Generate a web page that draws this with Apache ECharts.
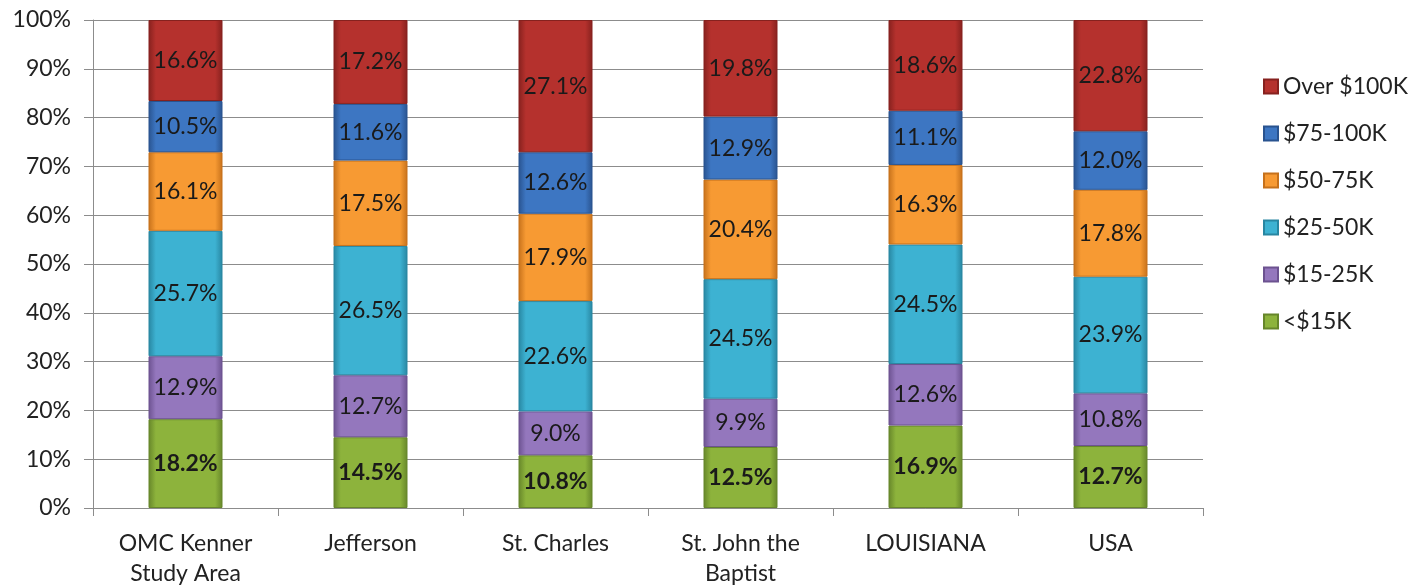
<!DOCTYPE html>
<html>
<head>
<meta charset="utf-8">
<script src="https://cdn.jsdelivr.net/npm/echarts@6/dist/echarts.min.js"></script>
<style>
  html, body { margin: 0; padding: 0; background: #fff; }
  #chart { width: 1426px; height: 585px; }
</style>
</head>
<body>
<div id="chart"></div>
<script>
const categories = ["OMC Kenner\nStudy Area", "Jefferson", "St. Charles", "St. John the\nBaptist", "LOUISIANA", "USA"];
const seriesNames = ["<$15K", "$15-25K", "$25-50K", "$50-75K", "$75-100K", "Over $100K"];
const under15 = [18.2, 14.5, 10.8, 12.5, 16.9, 12.7];
const from15to25 = [12.9, 12.7, 9.0, 9.9, 12.6, 10.8];
const from25to50 = [25.7, 26.5, 22.6, 24.5, 24.5, 23.9];
const from50to75 = [16.1, 17.5, 17.9, 20.4, 16.3, 17.8];
const from75to100 = [10.5, 11.6, 12.6, 12.9, 11.1, 12.0];
const over100 = [16.6, 17.2, 27.1, 19.8, 18.6, 22.8];
const yTicks = [0, 10, 20, 30, 40, 50, 60, 70, 80, 90, 100];

const values = [under15, from15to25, from25to50, from50to75, from75to100, over100];
// base colour, edge colour (bevel look)
const colours = [
  ["#8db33c", "#66862a"],
  ["#9477bd", "#6c5290"],
  ["#3db2d2", "#2886a1"],
  ["#f79a33", "#c6711b"],
  ["#3d76c2", "#29538f"],
  ["#b5312d", "#86211e"]
];

const bevel = (c) => ({
  type: "linear", x: 0, y: 0, x2: 1, y2: 0,
  colorStops: [
    { offset: 0, color: c[1] },
    { offset: 0.1, color: c[0] },
    { offset: 0.9, color: c[0] },
    { offset: 1, color: c[1] }
  ]
});

const font = "Lato, 'Open Sans', sans-serif";
const fs = 23;

const chart = echarts.init(document.getElementById("chart"));
chart.setOption({
  animation: false,
  textStyle: { fontFamily: font },
  grid: { left: 93, right: 223, top: 20, bottom: 77, outerBoundsMode: "none" },
  legend: {
    orient: "vertical",
    left: 1258,
    top: 70,
    itemWidth: 14,
    itemHeight: 14,
    itemGap: 24,
    icon: "rect",
    data: seriesNames.slice().reverse(),
    textStyle: { fontSize: fs, color: "#222", fontFamily: font }
  },
  xAxis: {
    type: "category",
    data: categories,
    axisLine: { lineStyle: { color: "#8c8c8c" } },
    axisTick: { show: true, length: 8, lineStyle: { color: "#8c8c8c" } },
    axisLabel: { fontSize: fs, color: "#222", margin: 21, lineHeight: 30, interval: 0 }
  },
  yAxis: {
    type: "value",
    min: 0,
    max: 100,
    interval: 10,
    axisLine: { show: true, lineStyle: { color: "#8c8c8c" } },
    axisTick: { show: true, length: 9, lineStyle: { color: "#8c8c8c" } },
    splitLine: { lineStyle: { color: "#8c8c8c" } },
    axisLabel: { fontSize: fs, color: "#222", margin: 22, formatter: (v) => (yTicks.includes(v) ? v + "%" : "") }
  },
  series: seriesNames.map((name, i) => ({
    name: name,
    type: "bar",
    stack: "total",
    barWidth: "40%",
    data: values[i],
    itemStyle: { color: bevel(colours[i]), borderColor: colours[i][1], borderWidth: 1 },
    label: {
      show: true,
      position: "inside",
      formatter: (p) => p.value.toFixed(1) + "%",
      fontSize: fs,
      fontWeight: i === 0 ? "bold" : "normal",
      color: "#1a1a1a",
      fontFamily: font
    }
  }))
});

window.addEventListener("resize", function () {
  chart.resize();
});
</script>
</body>
</html>
